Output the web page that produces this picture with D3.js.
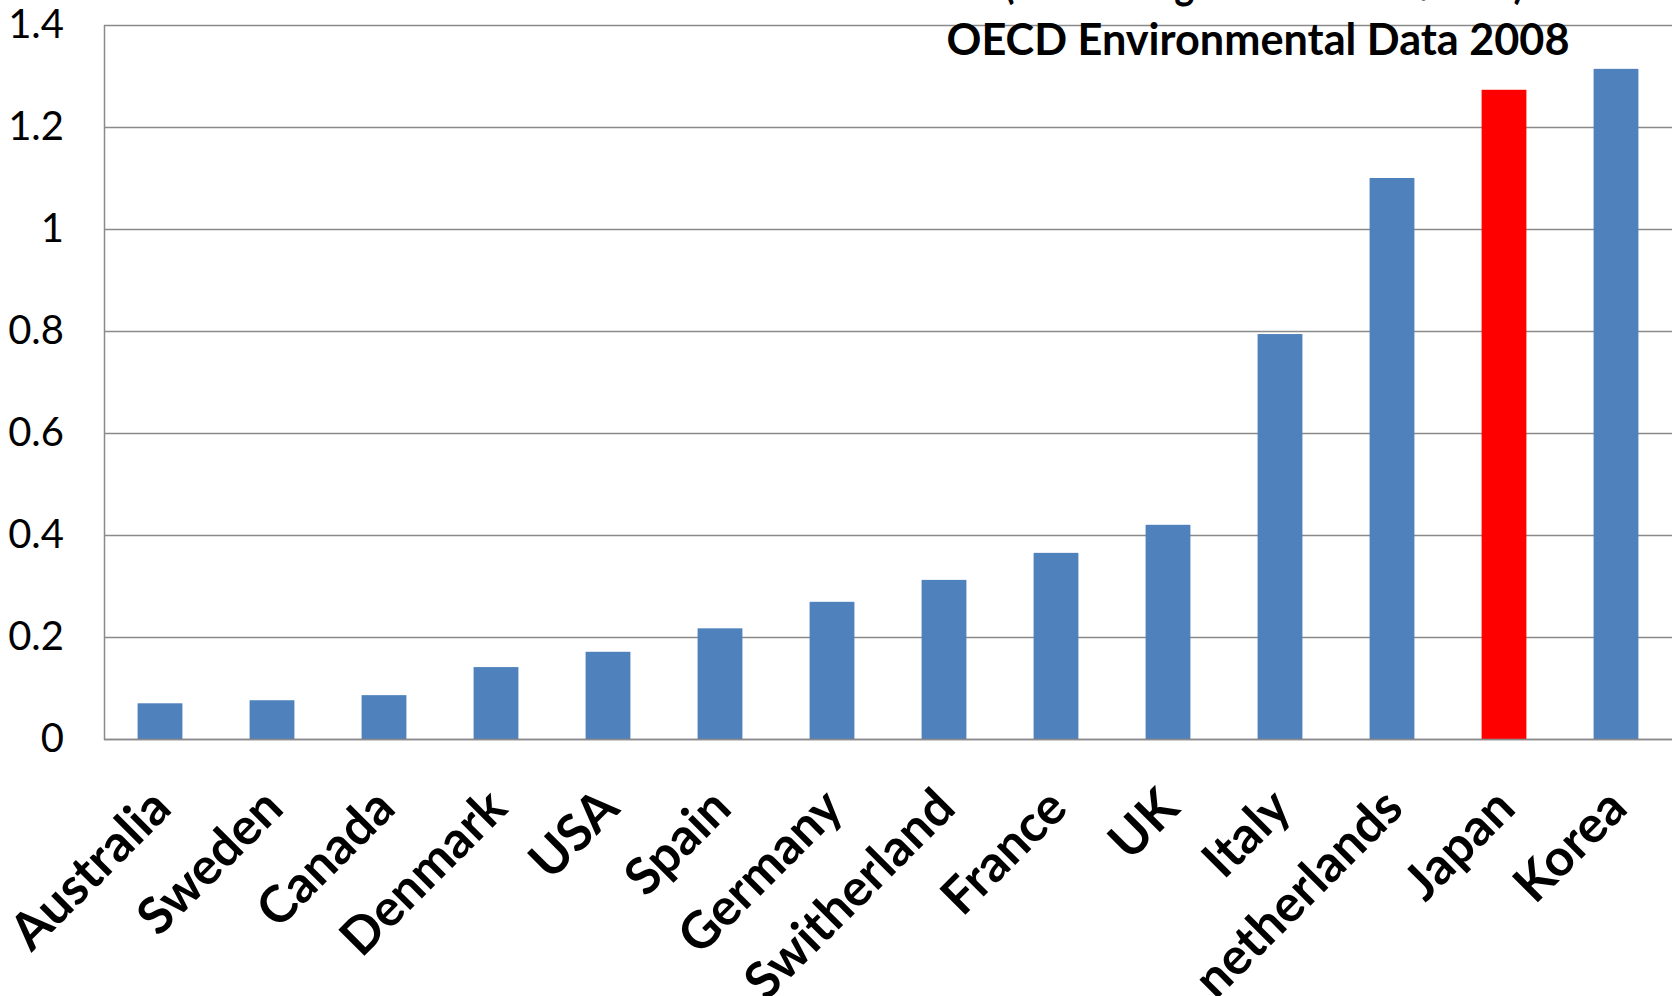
<!DOCTYPE html>
<html>
<head>
<meta charset="utf-8">
<script src="https://cdn.jsdelivr.net/npm/d3@7"></script>
<style>
  html, body { margin: 0; padding: 0; background: #ffffff; overflow: hidden; }
  svg { display: block; }
</style>
</head>
<body>
<svg id="chart" width="1678" height="996"></svg>
<script>
// ---- data ----
const countries = ["Australia", "Sweden", "Canada", "Denmark", "USA", "Spain", "Germany",
  "Switherland", "France", "UK", "Italy", "netherlands", "Japan", "Korea"];
const values = [0.070, 0.076, 0.086, 0.141, 0.171, 0.217, 0.269,
  0.312, 0.365, 0.420, 0.794, 1.100, 1.273, 1.314];
const highlighted = ["Japan"];
const yTicks = [0, 0.2, 0.4, 0.6, 0.8, 1, 1.2, 1.4];
const titleLines = ["(Sales of agrochemicals t/km2)", "OECD Environmental Data 2008"];

// ---- layout ----
const W = 1678, H = 996;
const plot = { left: 104, right: 1672, top: 25, bottom: 739 };
const svg = d3.select("#chart");

const x = d3.scaleBand()
  .domain(countries)
  .range([plot.left, plot.right])
  .paddingInner(0.6)
  .paddingOuter(0.3);

const y = d3.scaleLinear()
  .domain([0, 1.4])
  .range([plot.bottom, plot.top]);

// gridlines
svg.append("g")
  .selectAll("line")
  .data(yTicks)
  .join("line")
  .attr("x1", plot.left)
  .attr("x2", plot.right)
  .attr("y1", d => Math.round(y(d)) + 0.5)
  .attr("y2", d => Math.round(y(d)) + 0.5)
  .attr("stroke", "#8a8a8a")
  .attr("stroke-width", 1.5);

// y axis labels
const yAxis = d3.axisLeft(y).tickValues(yTicks).tickSize(0).tickPadding(40)
  .tickFormat(d => d3.format("~g")(d));
const gy = svg.append("g").attr("transform", `translate(${plot.left},0)`).call(yAxis);
gy.select(".domain").remove();
gy.selectAll("text")
  .attr("font-family", "Lato, 'Open Sans', sans-serif")
  .attr("font-size", 40)
  .attr("fill", "#000")
  .attr("dy", "0.32em");

// bars
svg.append("g")
  .selectAll("rect")
  .data(countries)
  .join("rect")
  .attr("x", d => x(d))
  .attr("width", x.bandwidth())
  .attr("y", (d, i) => y(values[i]))
  .attr("height", (d, i) => y(0) - y(values[i]))
  .attr("fill", d => highlighted.includes(d) ? "#ff0000" : "#4f81bd");

// axis lines
svg.append("line")
  .attr("x1", plot.left + 0.5).attr("x2", plot.left + 0.5)
  .attr("y1", plot.top).attr("y2", plot.bottom + 1)
  .attr("stroke", "#8a8a8a").attr("stroke-width", 1.5);
svg.append("line")
  .attr("x1", plot.left).attr("x2", plot.right)
  .attr("y1", Math.round(y(0)) + 0.5).attr("y2", Math.round(y(0)) + 0.5)
  .attr("stroke", "#8a8a8a").attr("stroke-width", 1.5);

// x labels rotated
svg.append("g")
  .selectAll("text")
  .data(countries)
  .join("text")
  .attr("transform", d => `translate(${x(d) + x.bandwidth() / 2 + 1},${plot.bottom + 59}) rotate(-45)`)
  .attr("text-anchor", "end")
  .attr("dy", "0.35em")
  .attr("font-family", "Lato, 'Open Sans', sans-serif")
  .attr("font-weight", 700)
  .attr("font-size", 51)
  .attr("fill", "#000")
  .text(d => d);

// title (first line mostly cropped above the picture, as in the reference)
svg.append("text")
  .attr("x", 1264).attr("y", -2)
  .attr("text-anchor", "middle")
  .attr("font-family", "Lato, 'Open Sans', sans-serif")
  .attr("font-weight", 700)
  .attr("font-size", 45)
  .attr("textLength", 520)
  .attr("lengthAdjust", "spacingAndGlyphs")
  .text(titleLines[0]);
svg.append("text")
  .attr("x", 1258).attr("y", 55)
  .attr("text-anchor", "middle")
  .attr("font-family", "Lato, 'Open Sans', sans-serif")
  .attr("font-weight", 700)
  .attr("font-size", 44)
  .attr("textLength", 623)
  .attr("lengthAdjust", "spacingAndGlyphs")
  .text(titleLines[1]);
</script>
</body>
</html>
